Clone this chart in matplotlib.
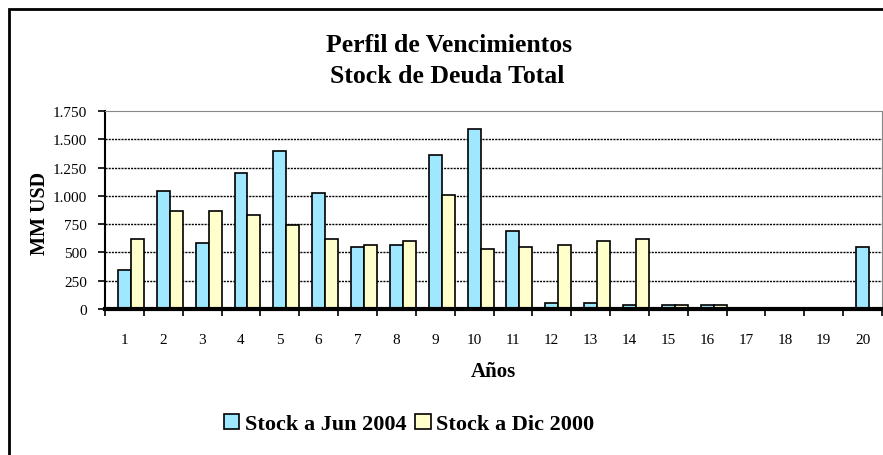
import matplotlib
matplotlib.use("Agg")
import matplotlib.pyplot as plt
import matplotlib.ticker as mticker
from matplotlib.patches import Rectangle
import numpy as np

plt.rcParams['font.family'] = ['Liberation Serif', 'DejaVu Serif']

# data
years = list(range(1, 21))
stock_jun_2004 = [349, 1045, 580, 1205, 1398, 1025, 548, 566, 1362, 1593,
                  690, 50, 50, 33, 33, 33, 8, 8, 8, 548]
stock_dic_2000 = [616, 865, 865, 832, 743, 616, 566, 598, 1007, 527,
                  548, 566, 601, 619, 33, 33, 8, 8, 8, 0]
# small unlabeled series drawn ahead of each pair
other = [0, 0, 0, 0, 8, 8, 8, 8, 8, 8, 8, 8, 8, 8, 0, 0, 0, 0, 0, 0]

fig = plt.figure(figsize=(8.83, 4.56), dpi=100)
ax = fig.add_axes([105/883, 1-310/456, (882-105)/883, (310-112)/456])

x = np.arange(len(years))
w = 1/3
ax.bar(x - w, other, width=w, color='black', edgecolor='black', linewidth=1.2)
ax.bar(x, stock_jun_2004, width=w, color='#A0E8FF', edgecolor='black',
       linewidth=1.2, label='Stock a Jun 2004')
ax.bar(x + w, stock_dic_2000, width=w, color='#FFFFCC', edgecolor='black',
       linewidth=1.2, label='Stock a Dic 2000')

ax.set_xlim(-0.5, len(years) - 0.5)
ax.set_ylim(0, 1750)
ax.set_yticks(range(0, 1751, 250))
ax.yaxis.set_major_formatter(mticker.FuncFormatter(lambda v, p: f"{int(v):,}".replace(',', '.')))
ax.set_xticks(x)
ax.set_xticklabels([str(y) for y in years])
ax.set_xticks(np.arange(-0.5, len(years), 1), minor=True)
ax.tick_params(axis='x', which='major', length=0, pad=17, labelsize=11)
ax.tick_params(axis='x', which='minor', length=5, width=1.2, direction='out')
ax.tick_params(axis='y', length=5, width=1.2, direction='out', labelsize=11, pad=8)

for yv in range(250, 1750, 250):
    ax.axhline(yv, color='black', linestyle=(0, (1.5, 0.8)), linewidth=1, zorder=0)

ax.spines['top'].set_color('#888888')
ax.spines['right'].set_color('#888888')
ax.spines['left'].set_linewidth(1.5)
ax.spines['bottom'].set_linewidth(3)

ax.set_xlabel('Años', fontweight='bold', fontsize=15)
ax.xaxis.set_label_coords(0.5, -(377 - 310) / 198, transform=ax.transAxes)
ax.xaxis.label.set_va('baseline')
ax.set_ylabel('MM USD', fontweight='bold', fontsize=14.5)
ax.yaxis.set_label_coords((40 - 105) / 777, (310 - 213) / 198)
ax.yaxis.label.set_va('center')

fig.text(449/883, 1-52/456, 'Perfil de Vencimientos', ha='center', va='baseline',
         fontweight='bold', fontsize=18.5)
fig.text(447/883, 1-83/456, 'Stock de Deuda Total', ha='center', va='baseline',
         fontweight='bold', fontsize=18.5)

handles, labels = ax.get_legend_handles_labels()
leg = fig.legend(handles[-2:], labels[-2:], loc='center', bbox_to_anchor=(409/883, 1-425/456),
                 ncol=2, frameon=False, prop={'weight': 'bold', 'size': 16},
                 handlelength=0.7, handleheight=0.7, handletextpad=0.25, columnspacing=0.4)

# outer chart frame
fig.patches.append(Rectangle((9/883, -0.1), 1.2, 1 - 10/456 + 0.1, transform=fig.transFigure,
                             fill=False, edgecolor='black', linewidth=2))

fig.savefig('out.png', dpi=100)
